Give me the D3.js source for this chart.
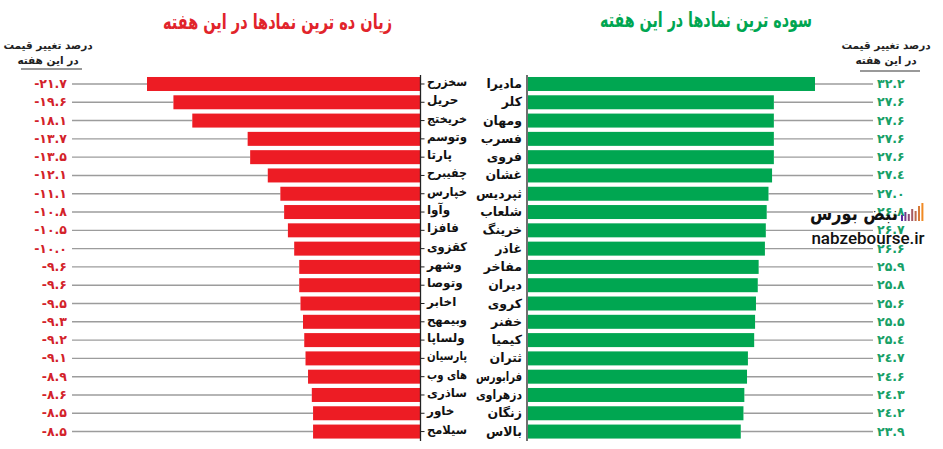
<!DOCTYPE html>
<html>
<head>
<meta charset="utf-8">
<script src="https://cdn.jsdelivr.net/npm/d3@7"></script>
<style>
  body { margin: 0; background: #fff; }
  svg { display: block; font-family: "DejaVu Sans", sans-serif; }
</style>
</head>
<body>
<svg id="chart" width="943" height="449"></svg>
<script>
// losers (left, red)
const loserNames = ["سخزرح", "حریل", "خریختج", "وتوسم", "پارتا", "چفیبرح", "خپارس", "وآوا", "فافزا", "کقزوی",
  "وشهر", "وتوصا", "اخابر", "وبیمهح", "ولساپا", "پارسیان", "های وب", "ساذری", "خاور", "سیلامح"];
const loserValues = [-21.7, -19.6, -18.1, -13.7, -13.5, -12.1, -11.1, -10.8, -10.5, -10.0,
  -9.6, -9.6, -9.5, -9.3, -9.2, -9.1, -8.9, -8.6, -8.5, -8.5];

// gainers (right, green)
const gainerNames = ["مادیرا", "کلر", "ومهان", "فسرب", "فروی", "غشان", "ثپردیس", "شلعاب", "خرینگ", "غاذر",
  "مفاخر", "دیران", "کروی", "خفنر", "کیمیا", "ثتران", "فرابورس", "دزهراوی", "زنگان", "بالاس"];
const gainerValues = [32.2, 27.6, 27.6, 27.6, 27.6, 27.4, 27.0, 26.8, 26.7, 26.6,
  25.9, 25.8, 25.6, 25.5, 25.4, 24.7, 24.6, 24.3, 24.2, 23.9];

const headerLines = ["درصد تغییر قیمت", "در این هفته"];

const red = "#ed1c24", green = "#00a651";
const svg = d3.select("#chart");

// persian digits (4 drawn as arabic form like the source)
const digits = "۰۱۲۳٤۵۶۷۸۹";
const fa = v => v.toFixed(1).replace(/\d/g, d => digits[+d]);

// squeeze a text if wider than max
function fit(sel, max) {
  sel.each(function() {
    if (this.getComputedTextLength() > max) {
      d3.select(this).attr("textLength", max).attr("lengthAdjust", "spacingAndGlyphs");
    }
  });
}

const y = d3.scaleBand()
  .domain(d3.range(20))
  .range([74.85, 440.7])
  .paddingInner(0.235)
  .paddingOuter(0.117);

const xL = d3.scaleLinear().domain([0, 21.7]).range([420, 147]);
const xR = d3.scaleLinear().domain([0, 32.2]).range([527, 815]);
const cy = i => y(i) + y.bandwidth() / 2;

// guide lines
svg.append("g").selectAll("line")
  .data(loserValues)
  .join("line")
  .attr("x1", 72).attr("x2", d => xL(-d))
  .attr("y1", (d, i) => cy(i)).attr("y2", (d, i) => cy(i))
  .attr("stroke", "#9c9c9c").attr("stroke-width", 1.4);

svg.append("g").selectAll("line")
  .data(gainerValues)
  .join("line")
  .attr("x1", d => xR(d)).attr("x2", 873)
  .attr("y1", (d, i) => cy(i)).attr("y2", (d, i) => cy(i))
  .attr("stroke", "#9c9c9c").attr("stroke-width", 1.4);

// bars
svg.append("g").selectAll("rect")
  .data(loserValues)
  .join("rect")
  .attr("x", d => xL(-d))
  .attr("y", (d, i) => y(i))
  .attr("width", d => xL(0) - xL(-d))
  .attr("height", y.bandwidth())
  .attr("fill", red);

svg.append("g").selectAll("rect")
  .data(gainerValues)
  .join("rect")
  .attr("x", xR(0) + 1)
  .attr("y", (d, i) => y(i))
  .attr("width", d => xR(d) - xR(0) - 1)
  .attr("height", y.bandwidth())
  .attr("fill", green);

// axes
svg.append("g")
  .attr("transform", "translate(420.5,0)")
  .call(d3.axisRight(y).tickSize(4).tickFormat(""))
  .call(g => g.select(".domain").attr("d", "M0,75V441").attr("stroke", "#222").attr("stroke-width", 1.3))
  .call(g => g.selectAll(".tick line").attr("stroke", "#222"));

svg.append("g")
  .attr("transform", "translate(527,0)")
  .call(d3.axisLeft(y).tickSize(0).tickFormat(""))
  .call(g => g.select(".domain").attr("d", "M0,75V441").attr("stroke", "#222").attr("stroke-width", 1.3));

// symbol names
svg.append("g").selectAll("text")
  .data(loserNames)
  .join("text")
  .attr("x", 427)
  .attr("y", (d, i) => cy(i) + 2)
  .attr("text-anchor", "start")
  .attr("font-size", 12)
  .attr("font-weight", "bold")
  .attr("fill", "#111")
  .text(d => d)
  .call(fit, 40);

svg.append("g").selectAll("text")
  .data(gainerNames)
  .join("text")
  .attr("x", 522)
  .attr("y", (d, i) => cy(i) + 4)
  .attr("text-anchor", "end")
  .attr("font-size", 12.5)
  .attr("font-weight", "bold")
  .attr("fill", "#111")
  .text(d => d)
  .call(fit, 46);

// value labels
svg.append("g").selectAll("text")
  .data(loserValues)
  .join("text")
  .attr("x", 67)
  .attr("y", (d, i) => cy(i) + 4)
  .attr("text-anchor", "end")
  .attr("font-size", 12.5)
  .attr("font-weight", "bold")
  .attr("fill", "#d3222a")
  .text(d => "-" + fa(-d));

svg.append("g").selectAll("text")
  .data(gainerValues)
  .join("text")
  .attr("x", 877)
  .attr("y", (d, i) => cy(i) + 4)
  .attr("text-anchor", "start")
  .attr("font-size", 12.5)
  .attr("font-weight", "bold")
  .attr("fill", "#17a067")
  .text(d => fa(d));

// titles
svg.append("text")
  .attr("x", 163).attr("y", 29)
  .attr("font-size", 21).attr("font-weight", "bold")
  .attr("textLength", 229).attr("lengthAdjust", "spacingAndGlyphs")
  .attr("fill", "#e1242b")
  .text("زیان ده ترین نمادها در این هفته");

svg.append("text")
  .attr("x", 600).attr("y", 27)
  .attr("font-size", 21).attr("font-weight", "bold")
  .attr("textLength", 212).attr("lengthAdjust", "spacingAndGlyphs")
  .attr("fill", green)
  .text("سوده ترین نمادها در این هفته");

// column headers
[[48, 21, 82, 69], [886, 860, 920, 71]].forEach(([cx, u1, u2, uy]) => {
  headerLines.forEach((t, i) => {
    svg.append("text")
      .attr("x", cx).attr("y", 49 + i * 15)
      .attr("text-anchor", "middle")
      .attr("font-size", 10.5).attr("font-weight", "bold")
      .attr("fill", "#222")
      .text(t);
  });
  svg.append("line")
    .attr("x1", u1).attr("x2", u2).attr("y1", uy).attr("y2", uy)
    .attr("stroke", "#777").attr("stroke-width", 1.3);
});

// watermark
const wm = svg.append("g");
const iconH = [6, 9, 7, 12, 10, 15, 18];
wm.selectAll("rect")
  .data(iconH)
  .join("rect")
  .attr("x", (d, i) => 901 + i * 3.4)
  .attr("y", d => 221 - d)
  .attr("width", 2)
  .attr("height", d => d)
  .attr("fill", (d, i) => d3.interpolateRgb("#5b2a9e", "#f08a24")(i / 6));
wm.append("text")
  .attr("x", 810).attr("y", 220)
  .attr("font-size", 19).attr("font-weight", "bold")
  .attr("textLength", 88).attr("lengthAdjust", "spacingAndGlyphs")
  .attr("fill", "#111")
  .text("نبض بورس");
wm.append("text")
  .attr("x", 868).attr("y", 244)
  .attr("text-anchor", "middle")
  .attr("font-family", "Roboto, sans-serif")
  .attr("font-size", 17).attr("font-weight", 500)
  .attr("fill", "#111")
  .text("nabzebourse.ir");
</script>
</body>
</html>
